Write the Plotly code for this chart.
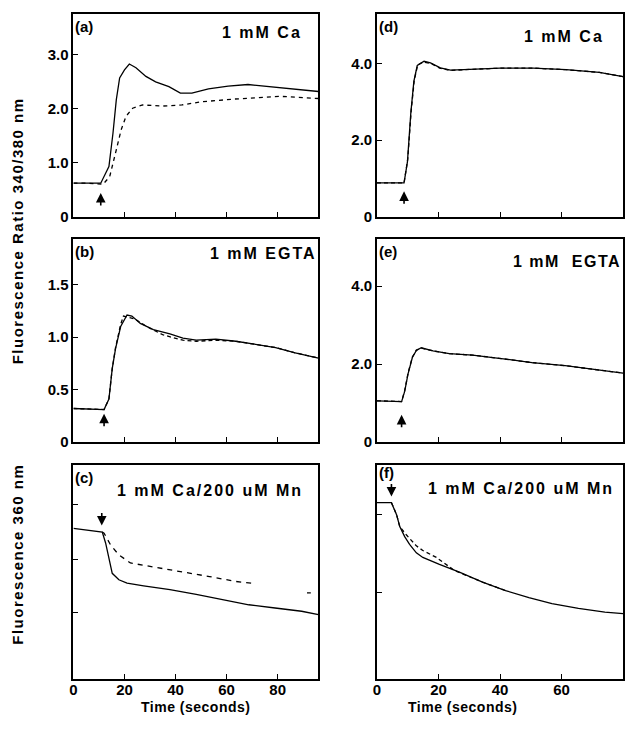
import plotly.graph_objects as go

# ---- data ----
# (a) 1 mM Ca
a_t = [0, 5, 10.7, 13.9, 15.5, 16.8, 18.1, 20, 21.9, 24.5, 28.4, 32.2, 37.4, 41.9, 46.4, 52.9, 60.6, 68.4, 74.8, 82.5, 91.6, 96]
a_solid = [0.62, 0.62, 0.62, 0.93, 1.55, 2.17, 2.57, 2.72, 2.83, 2.76, 2.6, 2.5, 2.41, 2.29, 2.29, 2.37, 2.42, 2.45, 2.42, 2.38, 2.35, 2.32]
a_t_dash = [0, 5, 11.6, 14.2, 16.8, 18.7, 20.6, 23.2, 27.1, 34.8, 42.5, 50.3, 63, 81.2, 96]
a_dash = [0.62, 0.62, 0.6, 0.74, 1.24, 1.61, 1.86, 2.01, 2.07, 2.05, 2.07, 2.13, 2.18, 2.23, 2.19]

# (b) 1 mM EGTA
b_t = [0, 12, 13.9, 15.2, 16.5, 18.5, 21, 22.9, 26.2, 31.3, 37.8, 42.9, 48.1, 55.8, 63.6, 71.3, 79.2, 86.9, 96]
b_solid = [0.32, 0.31, 0.41, 0.7, 0.89, 1.1, 1.21, 1.2, 1.13, 1.07, 1.03, 0.99, 0.97, 0.98, 0.96, 0.93, 0.9, 0.85, 0.8]
b_t_dash = [0, 12, 13.9, 15.2, 16.5, 18.5, 19.6, 24.2, 28.7, 35.2, 42.9, 48.1, 55.8, 63.6, 71.3, 79.2, 86.9, 96]
b_dash = [0.32, 0.31, 0.41, 0.7, 0.9, 1.12, 1.2, 1.17, 1.1, 1.02, 0.97, 0.96, 0.97, 0.96, 0.93, 0.9, 0.85, 0.8]

# (c) 1 mM Ca / 200 uM Mn  (fluorescence 360 nm, arbitrary units)
c_t = [0, 5.5, 11.3, 12.6, 13.9, 15.2, 17.8, 21, 27.5, 37.8, 48.1, 58.4, 68.7, 79, 89.4, 96]
c_solid = [2.77, 2.73, 2.7, 2.5, 2.19, 1.94, 1.82, 1.76, 1.71, 1.64, 1.55, 1.46, 1.36, 1.3, 1.24, 1.18]
c_t_dash = [11.3, 12, 14.6, 17.8, 22.3, 30.1, 40.3, 53.3, 63.6, 71.3]
c_dash = [2.7, 2.68, 2.46, 2.28, 2.13, 2.07, 1.98, 1.88, 1.79, 1.75]
c_t_frag = [91.5, 93]
c_frag = [1.58, 1.58]

# (d) 1 mM Ca
d_t = [0, 8.8, 9.9, 11, 12, 13.1, 15.3, 17.4, 20.6, 23.9, 28.2, 33.5, 40, 50.8, 61.5, 72.3, 80]
d_solid = [0.88, 0.88, 1.43, 2.71, 3.54, 3.95, 4.06, 4.02, 3.89, 3.83, 3.84, 3.86, 3.88, 3.88, 3.84, 3.77, 3.66]
d_t_dash = [0, 8.8, 10, 11.1, 12.1, 13.2, 15, 17.6, 20.4, 24, 28, 33.5, 40, 50.8, 61.5, 72.3, 80]
d_dash = [0.88, 0.88, 1.5, 2.75, 3.55, 3.96, 4.04, 4.0, 3.88, 3.82, 3.84, 3.86, 3.88, 3.88, 3.84, 3.77, 3.66]

# (e) 1 mM EGTA
e_t = [0, 8, 9, 10.1, 11.5, 12.8, 14.4, 18.2, 23.5, 31.1, 39.7, 50.4, 61.2, 72, 80]
e_solid = [1.06, 1.04, 1.3, 1.75, 2.17, 2.35, 2.42, 2.34, 2.27, 2.23, 2.15, 2.04, 1.96, 1.86, 1.77]
e_dash = [1.06, 1.04, 1.32, 1.77, 2.18, 2.36, 2.41, 2.34, 2.27, 2.23, 2.15, 2.04, 1.96, 1.86, 1.77]

# (f) 1 mM Ca / 200 uM Mn
f_t = [0, 4.7, 6.4, 7.4, 9, 10.6, 12.8, 14.9, 20.3, 26.8, 34.3, 41.8, 49.4, 56.9, 65.5, 74.1, 80]
f_solid = [2.28, 2.28, 2.12, 1.97, 1.84, 1.74, 1.63, 1.57, 1.48, 1.38, 1.25, 1.14, 1.05, 0.97, 0.91, 0.86, 0.84]
f_t_dash = [4.7, 6.4, 7.4, 9.6, 12.8, 14.9, 19.3, 25.2, 34.3, 41.8]
f_dash = [2.28, 2.12, 1.97, 1.86, 1.72, 1.66, 1.57, 1.4, 1.25, 1.14]

# stimulus arrows: (time, tip value, direction)
arrows = {"a": (10.7, 0.44, "up"), "b": (12, 0.27, "up"), "c": (11.1, 2.82, "down"),
          "d": (8.8, 0.66, "up"), "e": (8.0, 0.7, "up"), "f": (4.7, 2.36, "down")}

panels = ["a", "d", "b", "e", "c", "f"]
conditions = {"a": "1 mM Ca", "b": "1 mM EGTA", "c": "1 mM Ca/200 uM Mn",
              "d": "1 mM Ca", "e": "1 mM  EGTA", "f": "1 mM Ca/200 uM Mn"}

series = {
    "a": [(a_t, a_solid, "solid"), (a_t_dash, a_dash, "4px,4px")],
    "b": [(b_t, b_solid, "solid"), (b_t_dash, b_dash, "4px,3px")],
    "c": [(c_t, c_solid, "solid"), (c_t_dash, c_dash, "5px,5px"), (c_t_frag, c_frag, "solid")],
    "d": [(d_t, d_solid, "solid"), (d_t_dash, d_dash, "4px,3px")],
    "e": [(e_t, e_solid, "solid"), (e_t, e_dash, "4px,3px")],
    "f": [(f_t, f_solid, "solid"), (f_t_dash, f_dash, "4px,3px")],
}

W, H = 625, 732
xdom_left = [70 / W, 317 / W]
xdom_right = [376 / W, 624 / W]
ydoms = [[1 - 219 / H, 1 - 14 / H], [1 - 447 / H, 1 - 242 / H], [1 - 686 / H, 1 - 470 / H]]

yranges = {"a": [0, 3.76], "b": [0, 1.93], "c": [0, 3.94], "d": [0, 5.3], "e": [0, 5.2], "f": [0, 2.77]}
yticks = {"a": ([0, 1, 2, 3], ["0", "1.0", "2.0", "3.0"]),
          "b": ([0, 0.5, 1, 1.5], ["0", "0.5", "1.0", "1.5"]),
          "c": ([1.21, 2.2, 3.21], None),
          "d": ([0, 2, 4], ["0", "2.0", "4.0"]),
          "e": ([0, 2, 4], ["0", "2.0", "4.0"]),
          "f": ([1.12, 2.12], None)}

# where the condition text starts (fraction of panel width), its height and letter spacing
cond_x = {"a": 0.6, "b": 0.55, "c": 0.17, "d": 0.59, "e": 0.545, "f": 0.2}
cond_y = {"a": 0.91, "b": 0.93, "c": 0.88, "d": 0.89, "e": 0.89, "f": 0.89}
cond_sp = {"a": 2, "b": 2, "c": 2, "d": 2, "e": 1.5, "f": 2}

fig = go.Figure()
font = dict(family="Liberation Sans, Arial, sans-serif", size=14, color="black", weight="bold")


def spaced(s, px):
    return '<span style="letter-spacing:%spx">%s</span>' % (px, s)


for i, p in enumerate(panels):
    n = "" if i == 0 else str(i + 1)
    xa, ya = "x" + n, "y" + n
    for t, v, dash in series[p]:
        fig.add_trace(go.Scatter(x=t, y=v, mode="lines", xaxis=xa, yaxis=ya, showlegend=False,
                                 line=dict(color="black", width=1.3, dash=dash)))
    right = i % 2 == 1
    row = i // 2
    bottom = row == 2
    xmax = 80 if right else 96
    xt = [0, 20, 40, 60] if right else [0, 20, 40, 60, 80]
    common = dict(showline=True, linecolor="black", linewidth=1.6, mirror=True, ticks="inside",
                  ticklen=5, tickwidth=1.3, tickcolor="black", showgrid=False, zeroline=False,
                  tickfont=dict(font, size=15))
    fig.layout["xaxis" + n] = dict(common, domain=xdom_right if right else xdom_left, range=[0, xmax],
                                   anchor=ya, tickvals=xt, showticklabels=bottom, ticklabelstandoff=-3)
    tv, tt = yticks[p]
    ydict = dict(common, domain=ydoms[row], range=yranges[p], anchor=xa, tickvals=tv,
                 showticklabels=tt is not None)
    if tt is not None:
        ydict["ticktext"] = tt
    fig.layout["yaxis" + n] = ydict

    # panel letter and condition
    ly = 0.965 if p == "f" else 0.94
    fig.add_annotation(x=0.0, y=ly, xref=xa + " domain", yref=ya + " domain", text="(" + p + ")",
                       showarrow=False, xanchor="left", yanchor="middle", font=dict(font, size=15))
    fig.add_annotation(x=cond_x[p], y=cond_y[p], xref=xa + " domain", yref=ya + " domain",
                       text=spaced(conditions[p], cond_sp[p]),
                       showarrow=False, xanchor="left", yanchor="middle", font=dict(font, size=16))

    # stimulus arrow
    at, av, direction = arrows[p]
    fig.add_annotation(x=at, y=av, xref=xa, yref=ya, showarrow=True, arrowhead=2, arrowsize=1.2,
                       arrowwidth=1.6, arrowcolor="black", ax=0, ay=14 if direction == "up" else -14,
                       text="")

# axis titles
fig.add_annotation(x=14 / W, y=1 - 233 / H, xref="paper", yref="paper",
                   text=spaced("Fluorescence Ratio 340/380 nm", 1.5),
                   textangle=-90, showarrow=False, xanchor="center", yanchor="middle", font=dict(font, size=15))
fig.add_annotation(x=14 / W, y=1 - 560 / H, xref="paper", yref="paper",
                   text=spaced("Fluorescence 360 nm", 1.5),
                   textangle=-90, showarrow=False, xanchor="center", yanchor="middle", font=dict(font, size=15))
for cx in [193 / W, 462 / W]:
    fig.add_annotation(x=cx, y=1 - 715 / H, xref="paper", yref="paper", text=spaced("Time (seconds)", 0.5),
                       showarrow=False, xanchor="center", yanchor="middle", font=dict(font, size=14))

fig.update_layout(width=W, height=H, margin=dict(l=0, r=0, t=0, b=0),
                  paper_bgcolor="white", plot_bgcolor="white", font=font)

# the page's default body margin would push the 625x732 figure off the window
fig.write_html("out.html", config={"displayModeBar": False},
               post_script="document.body.style.margin='0';")
